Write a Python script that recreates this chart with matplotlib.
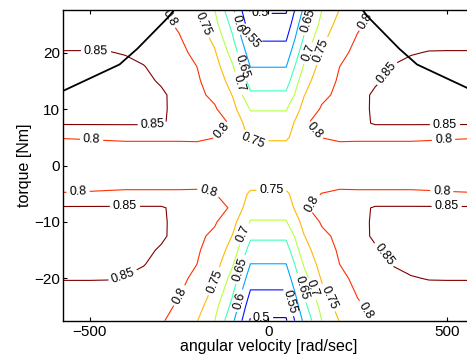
import numpy as np
import matplotlib.pyplot as plt

plt.rcParams['font.family'] = ['Liberation Sans', 'DejaVu Sans']

# efficiency map, quadrant speed > 0 / torque > 0 (the map is mirrored on both axes)
speed = [50, 100, 150, 200, 250, 300, 350, 400, 450, 500, 576]          # rad/sec
torque = [2.5, 5, 7.5, 10, 12.5, 15, 17.5, 20, 22.5, 25, 27.5]          # Nm
eff = [
    [0.770, 0.772, 0.775, 0.778, 0.780, 0.780, 0.780, 0.780, 0.780, 0.780, 0.780],
    [0.7435, 0.780, 0.801, 0.810, 0.808, 0.808, 0.808, 0.808, 0.806, 0.804, 0.802],
    [0.720, 0.791, 0.825, 0.830, 0.836, 0.855, 0.855, 0.855, 0.855, 0.855, 0.855],
    [0.697, 0.765, 0.805, 0.825, 0.838, 0.856, 0.865, 0.865, 0.865, 0.865, 0.865],
    [0.659, 0.748, 0.790, 0.810, 0.835, 0.857, 0.868, 0.868, 0.868, 0.868, 0.868],
    [0.628, 0.730, 0.780, 0.805, 0.825, 0.845, 0.860, 0.870, 0.870, 0.870, 0.870],
    [0.599, 0.705, 0.770, 0.800, 0.820, 0.835, 0.852, 0.862, 0.868, 0.868, 0.868],
    [0.572, 0.680, 0.755, 0.790, 0.810, 0.825, 0.838, 0.847, 0.852, 0.852, 0.852],
    [0.545, 0.655, 0.738, 0.780, 0.803, 0.815, 0.825, 0.832, 0.835, 0.838, 0.838],
    [0.518, 0.635, 0.715, 0.770, 0.795, 0.810, 0.818, 0.825, 0.830, 0.833, 0.835],
    [0.495, 0.610, 0.700, 0.752, 0.780, 0.805, 0.815, 0.822, 0.828, 0.830, 0.832],
]
levels = [0.5, 0.55, 0.6, 0.65, 0.7, 0.75, 0.8, 0.85]

# max torque curve (right half, mirrored to the left)
limit_speed = [265, 280, 367, 417, 576]
limit_torque = [27.5, 26.3, 20.7, 17.9, 13.2]

# where the contour labels sit
label_pos = {
    0.5: [(-23, 26.6), (-19, -26.7)],
    0.55: [(-56, 22.5), (56, -24.2)],
    0.6: [(-84, 25.2), (-79, -24.0)],
    0.65: [(-75, 17.5), (110, 25.7), (-79, -18.4), (88, -21.8)],
    0.7: [(-80, 14.6), (105, 20.1), (-66, -12.2), (120, -21.9)],
    0.75: [(-180, 25.2), (145, 20.4), (-42, 4.3), (9, -4.3), (-154, -20.5), (159, -23.7)],
    0.8: [(-495, 4.9), (-133, 6.3), (-280, 26.1), (271, 25.7), (126, 6.0), (491, 4.8),
          (-533, -4.9), (-168, -4.9), (-248, -23.1), (117, -6.4), (486, -4.9), (271, -25.8)],
    0.85: [(-483, 20.0), (-324, 7.3), (327, 16.6), (495, 7.2),
           (-402, -7.2), (-407, -19.6), (500, -7.2), (318, -16.1)],
}

s = np.array(speed, dtype=float)
t = np.array(torque, dtype=float)
S = np.concatenate([-s[::-1], s])
T = np.concatenate([-t[::-1], t])
E = np.array(eff)
E = np.hstack([E[:, ::-1], E])
E = np.vstack([E[::-1], E])

fig = plt.figure(figsize=(4.67, 3.58), dpi=100)
ax = fig.add_axes([0.1345, 0.1042, 0.880, 0.867])

cols = plt.cm.jet(np.linspace(0, 1, len(levels)))
for lev, c in zip(levels, cols):
    cs = ax.contour(S, T, E, levels=[lev], colors=[c], linewidths=0.8)
    ax.clabel(cs, fmt='%g', fontsize=9, colors='k', manual=label_pos[lev],
              inline=True, inline_spacing=3)

ls = np.array(limit_speed)
lt = np.array(limit_torque)
ax.plot(ls, lt, color='k', lw=1.3)
ax.plot(-ls, lt, color='k', lw=1.3)

ax.set_xlim(-576, 576)
ax.set_ylim(-27.5, 27.5)
ax.set_xticks([-500, 0, 500])
ax.set_yticks([-20, -10, 0, 10, 20])
ax.tick_params(direction='in', top=True, right=True, length=3, labelsize=11)
ax.tick_params(axis='x', pad=3)
ax.tick_params(axis='y', pad=2)
for sp in ax.spines.values():
    sp.set_linewidth(1.0)
ax.set_xlabel('angular velocity [rad/sec]', fontsize=11.5, labelpad=0)
ax.set_ylabel('torque [Nm]', fontsize=11.5, labelpad=1.5)

plt.savefig('out.png', dpi=100)
